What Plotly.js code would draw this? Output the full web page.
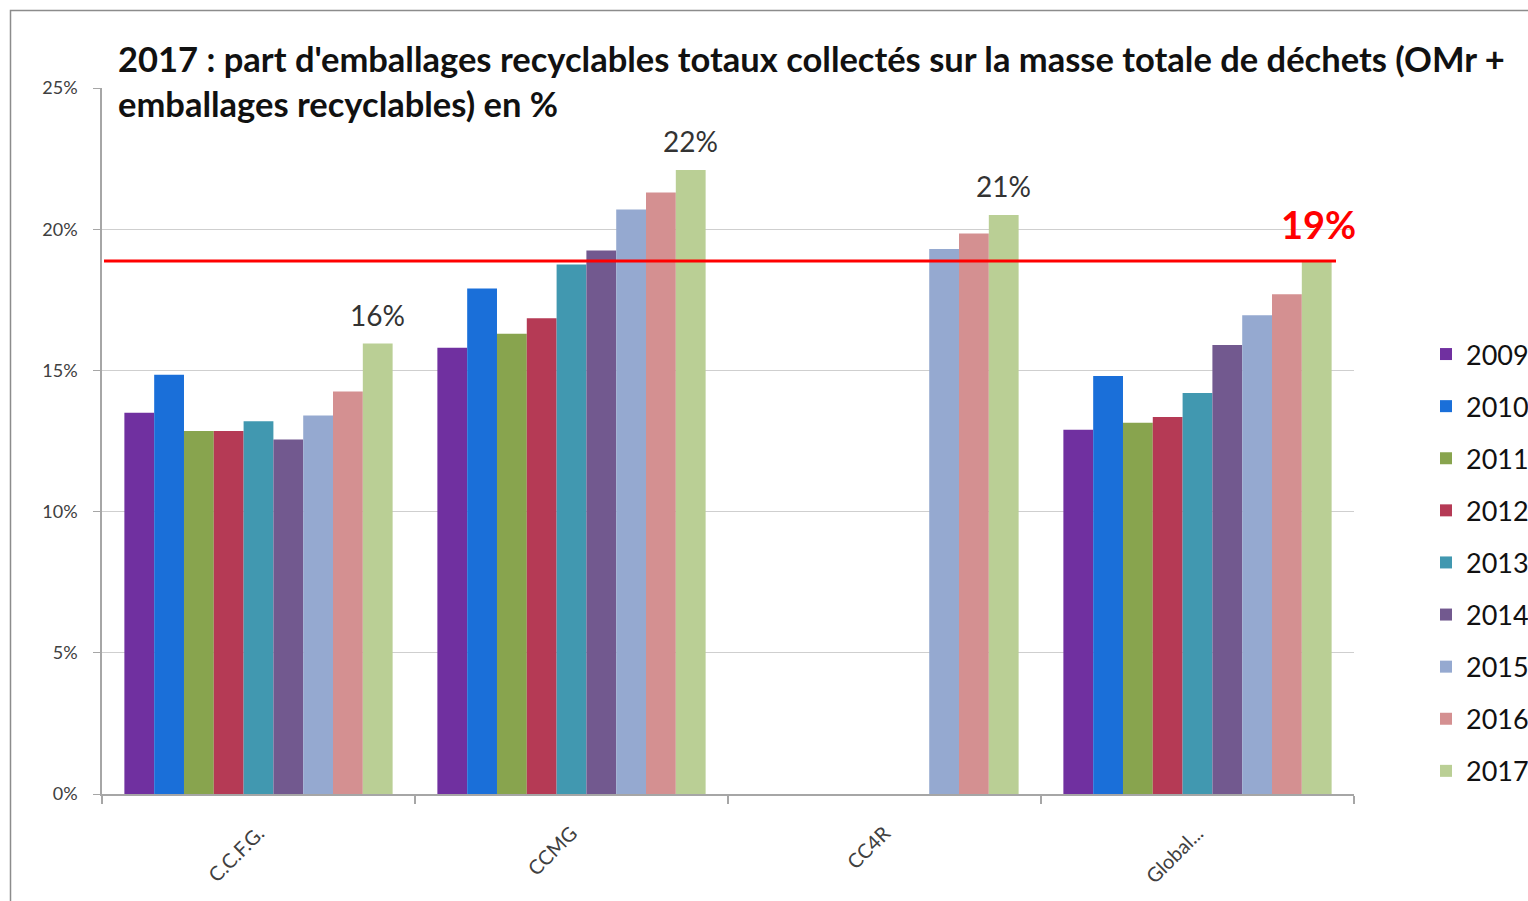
<!DOCTYPE html>
<html>
<head>
<meta charset="utf-8">
<script src="https://cdn.plot.ly/plotly-3.0.1.min.js"></script>
<style>
html,body{margin:0;padding:0;background:#fff;}
#chart{width:1528px;height:901px;}
</style>
</head>
<body>
<div id="chart"></div>
<script>
const categories = ["C.C.F.G.", "CCMG", "CC4R", "Global..."];
const years = ["2009","2010","2011","2012","2013","2014","2015","2016","2017"];
const v2009 = [13.5, 15.8, null, 12.9];
const v2010 = [14.85, 17.9, null, 14.8];
const v2011 = [12.85, 16.3, null, 13.15];
const v2012 = [12.85, 16.85, null, 13.35];
const v2013 = [13.2, 18.75, null, 14.2];
const v2014 = [12.55, 19.25, null, 15.9];
const v2015 = [13.4, 20.7, 19.3, 16.95];
const v2016 = [14.25, 21.3, 19.85, 17.7];
const v2017 = [15.95, 22.1, 20.5, 18.85];
const labels2017 = ["16%", "22%", "21%", ""];
const seriesValues = [v2009, v2010, v2011, v2012, v2013, v2014, v2015, v2016, v2017];
const colors = ["#7030A0","#1A6FD9","#88A44E","#B53A55","#4198B0","#72598F","#95A9D0","#D49091","#BACF95"];
const targetValue = 18.87;
const targetLabel = "19%";
const titleText = "2017 : part d'emballages recyclables totaux collectés sur la masse totale de déchets (OMr +<br>emballages recyclables) en %";
const yTicks = [0, 5, 10, 15, 20, 25];
const yTickLabels = ["0%", "5%", "10%", "15%", "20%", "25%"];

const FONT = "Lato, 'Noto Sans', sans-serif";
const BARGAP = 0.143;

const traces = years.map((yr, i) => ({
  type: "bar",
  name: yr,
  x: categories,
  y: seriesValues[i],
  marker: {color: colors[i], line: {width: 0}},
  legendgroup: "g" + yr,
  hoverinfo: "x+y+name"
}));

const L = 102, R = 1354, T = 88, B = 794;
const pw = R - L, ph = B - T;
const px = v => (v - L) / pw;
const py = v => (B - v) / ph;

// data labels above the 2017 bars (position derived from category index + group offset)
const groupW = 1 - BARGAP;
const barW = groupW / years.length;
const idx2017 = years.indexOf("2017");
const off2017 = -groupW / 2 + barW * (idx2017 + 0.5);
const labelAnns = categories.map((c, k) => ({
  xref: "x", yref: "y", x: k + off2017, y: v2017[k], text: labels2017[k],
  showarrow: false, xanchor: "center", yanchor: "bottom", yshift: 10,
  font: {family: FONT, size: 28, color: "#333333"}
})).filter(a => a.text !== "");

const layout = {
  width: 1528,
  height: 901,
  margin: {l: L, r: 1528 - R, t: T, b: 901 - B, pad: 0, autoexpand: false},
  paper_bgcolor: "#ffffff",
  plot_bgcolor: "#ffffff",
  barmode: "group",
  bargap: BARGAP,
  bargroupgap: 0,
  font: {family: FONT, color: "#404040"},
  xaxis: {
    type: "category",
    tickson: "boundaries",
    ticks: "outside",
    ticklen: 8,
    tickcolor: "#a6a6a6",
    tickwidth: 1.5,
    showline: true,
    linecolor: "#a6a6a6",
    linewidth: 1.5,
    showgrid: false,
    tickangle: -45,
    tickfont: {family: FONT, size: 20, color: "#404040"},
    ticklabelstandoff: 18
  },
  yaxis: {
    range: [0, 25],
    tickvals: yTicks,
    ticktext: yTickLabels,
    ticks: "outside",
    ticklen: 7,
    tickcolor: "#a6a6a6",
    showline: true,
    linecolor: "#a6a6a6",
    linewidth: 1.5,
    showgrid: true,
    gridcolor: "#cfcfcf",
    gridwidth: 1,
    zeroline: false,
    tickfont: {family: FONT, size: 18, color: "#404040"},
    ticklabelstandoff: 12
  },
  legend: {
    x: px(1426), xanchor: "left",
    y: py(330), yanchor: "top",
    font: {family: FONT, size: 27, color: "#111111"},
    traceorder: "grouped",
    tracegroupgap: 14,
    bgcolor: "rgba(0,0,0,0)",
    itemclick: false
  },
  shapes: [
    {type: "line", xref: "paper", yref: "y", x0: px(104), x1: px(1336), y0: targetValue, y1: targetValue,
     line: {color: "#FF0000", width: 3}},
    {type: "rect", xref: "paper", yref: "paper", x0: px(10.5), x1: px(1600), y0: py(1000), y1: py(10.5),
     line: {color: "#8c8c8c", width: 1.5}, fillcolor: "rgba(0,0,0,0)", layer: "below"}
  ],
  annotations: [
    {xref: "paper", yref: "paper", x: px(116), y: py(36), text: titleText,
     showarrow: false, xanchor: "left", yanchor: "top", align: "left",
     font: {family: FONT, size: 34.5, color: "#111111", weight: "bold"}},
    {xref: "paper", yref: "y", x: px(1318), y: (B - 224) / (ph / 25), text: targetLabel,
     showarrow: false, xanchor: "center", yanchor: "middle",
     font: {family: FONT, size: 38, color: "#FF0000", weight: "bold"}}
  ].concat(labelAnns)
};

Plotly.newPlot("chart", traces, layout, {displayModeBar: false, responsive: false});
</script>
</body>
</html>
